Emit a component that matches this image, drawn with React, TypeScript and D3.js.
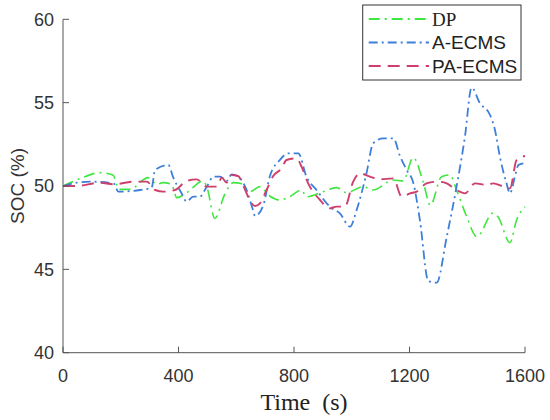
import React from "react";
import * as d3 from "d3";

const dpTime = [0, 60, 128, 173, 194, 232, 295, 325, 346, 376, 394, 429, 485, 498, 526, 560, 590, 613, 648, 682, 716, 751, 785, 826, 843, 901, 947, 982, 1040, 1074, 1144, 1178, 1213, 1248, 1272, 1311, 1340, 1363, 1398, 1433, 1490, 1507, 1548, 1571, 1600];
const dpSoc = [50.0, 50.45, 50.8, 50.66, 49.8, 49.8, 50.5, 50.1, 50.2, 50.1, 49.3, 49.6, 50.3, 49.95, 48.05, 49.5, 50.2, 50.16, 49.66, 49.96, 49.4, 49.16, 49.36, 49.76, 49.35, 49.66, 49.9, 49.6, 49.96, 49.76, 50.36, 50.3, 51.7, 50.2, 48.85, 50.56, 50.66, 49.76, 48.16, 46.96, 48.38, 48.14, 46.6, 47.96, 48.76];

const aTime = [0, 47, 94, 175, 192, 267, 307, 319, 365, 382, 411, 428, 451, 474, 498, 521, 544, 567, 584, 607, 636, 658, 665, 694, 716, 751, 780, 815, 843, 878, 924, 959, 994, 1017, 1051, 1074, 1109, 1144, 1167, 1190, 1213, 1236, 1265, 1294, 1329, 1363, 1392, 1415, 1444, 1479, 1496, 1513, 1536, 1548, 1565, 1577, 1594];
const aSoc = [50, 50.2, 50.26, 50.16, 49.66, 49.76, 49.9, 50.96, 51.26, 50.5, 49.56, 49.06, 49.36, 49.36, 49.96, 50.56, 50.56, 50.3, 50.7, 50.56, 49.76, 48.56, 48.2, 48.86, 50.56, 51.56, 51.96, 51.96, 50.56, 49.76, 48.76, 48.36, 47.56, 48.56, 50.76, 52.56, 52.86, 52.86, 51.8, 50.96, 50.2, 47.96, 44.3, 44.2, 46.96, 49.96, 52.96, 55.9, 54.96, 54.26, 53.36, 51.76, 50.16, 49.56, 50.56, 51.26, 51.36];

const paTime = [0, 47, 128, 175, 244, 290, 319, 348, 388, 428, 463, 498, 532, 550, 567, 584, 606, 630, 648, 665, 682, 705, 728, 757, 774, 809, 826, 849, 890, 924, 947, 976, 1005, 1028, 1063, 1098, 1144, 1173, 1202, 1225, 1259, 1300, 1329, 1363, 1392, 1427, 1467, 1490, 1525, 1548, 1571, 1600];
const paSoc = [50, 50.0, 50.2, 50.1, 50.26, 50.26, 49.76, 49.66, 49.76, 50.3, 50.4, 49.96, 49.96, 50.5, 50.2, 50.66, 50.6, 49.8, 49.1, 48.8, 48.96, 49.76, 50.6, 51.06, 51.56, 51.66, 51.16, 50.16, 49.16, 48.66, 48.76, 48.76, 50.26, 50.76, 50.56, 50.4, 50.46, 49.36, 49.56, 49.66, 50.16, 50.26, 50.16, 49.76, 49.56, 50.16, 50.06, 50.16, 49.96, 49.86, 51.56, 51.8];

const xTicks = [0, 400, 800, 1200, 1600];
const yTicks = [40, 45, 50, 55, 60];
const seriesNames = ["DP", "A-ECMS", "PA-ECMS"];

const W = 550, H = 420;
const left = 63, right = 525, top = 19.3, bottom = 352.7;

export default function App() {
  const x = d3.scaleLinear().domain([0, 1600]).range([left, right]);
  const y = d3.scaleLinear().domain([40, 60]).range([bottom, top]);
  const line = d3.line<[number, number]>().x(d => x(d[0])).y(d => y(d[1])).curve(d3.curveMonotoneX);

  const series = [
    { name: seriesNames[0], t: dpTime, v: dpSoc, color: "#3fe63f", dash: "11,5,2,5", w: 1.6, font: "'Liberation Serif', 'Times New Roman', serif" },
    { name: seriesNames[1], t: aTime, v: aSoc, color: "#3d7fd9", dash: "9,4,2,4", w: 1.8, font: "'Liberation Sans', Arial, sans-serif" },
    { name: seriesNames[2], t: paTime, v: paSoc, color: "#cf3f6b", dash: "12,7", w: 1.9, font: "'Liberation Sans', Arial, sans-serif" },
  ];

  const axisColor = "#555";
  const sans = "'Liberation Sans', Arial, sans-serif";

  return (
    <svg width={W} height={H} style={{ position: "absolute", left: 0, top: 0, background: "#fff" }}>
      {/* data lines */}
      {series.map(s => (
        <path key={s.name} d={line(s.t.map((t, i) => [t, s.v[i]] as [number, number])) || ""}
          fill="none" stroke={s.color} strokeWidth={s.w} strokeDasharray={s.dash} />
      ))}
      {/* axes */}
      <line x1={left} y1={top} x2={left} y2={bottom} stroke={axisColor} strokeWidth={1} />
      <line x1={left} y1={bottom} x2={right} y2={bottom} stroke={axisColor} strokeWidth={1} />
      {yTicks.map(v => (
        <g key={"y" + v}>
          <line x1={left} x2={left + 6} y1={y(v)} y2={y(v)} stroke={axisColor} />
          <text x={left - 9} y={y(v)} dy="0.35em" textAnchor="end" fontFamily={sans} fontSize={18} fill="#333">{v}</text>
        </g>
      ))}
      {xTicks.map(t => (
        <g key={"x" + t}>
          <line x1={x(t)} x2={x(t)} y1={bottom} y2={bottom - 6} stroke={axisColor} />
          <text x={x(t)} y={bottom + 29} textAnchor="middle" fontFamily={sans} fontSize={18} fill="#333">{t}</text>
        </g>
      ))}
      <text transform={`translate(24,${(top + bottom) / 2}) rotate(-90)`} textAnchor="middle" fontFamily={sans} fontSize={19} fill="#333">SOC (%)</text>
      <text x={304} y={410} textAnchor="middle" fontFamily="'Liberation Serif', 'Times New Roman', serif" fontSize={24} fill="#222" style={{ whiteSpace: "pre" }}>{"Time\u00a0\u00a0(s)"}</text>
      {/* legend */}
      <rect x={362.7} y={5} width={158.3} height={75} fill="#fff" stroke="#333" strokeWidth={1} />
      {series.map((s, i) => {
        const ly = 19 + i * 23.5;
        return (
          <g key={"lg" + s.name}>
            <line x1={368.7} x2={429} y1={ly} y2={ly} stroke={s.color} strokeWidth={s.w + 0.2} strokeDasharray={s.dash} />
            <text x={432} y={ly} dy="0.35em" fontFamily={s.font} fontSize={19} fill="#222">{s.name}</text>
          </g>
        );
      })}
    </svg>
  );
}
